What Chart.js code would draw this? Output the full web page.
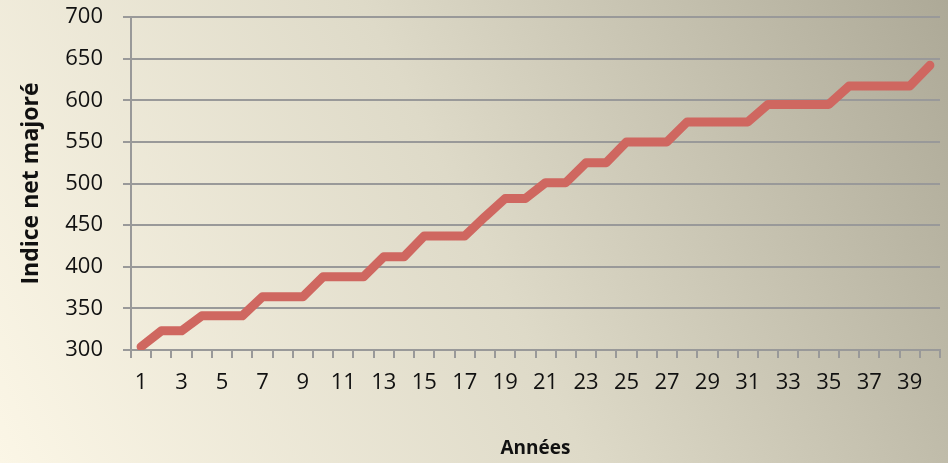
<!DOCTYPE html>
<html lang="fr">
<head>
<meta charset="UTF-8">
<title>Indice net majoré</title>
<script src="https://cdn.jsdelivr.net/npm/chart.js"></script>
<style>
  html, body { margin: 0; padding: 0; }
  #wrap { width: 948px; height: 463px; position: relative; }
</style>
</head>
<body>
<div id="wrap"><canvas id="chart"></canvas></div>
<script>
// années 1..40
const annees = [];
for (let i = 1; i <= 40; i++) annees.push(i);

// indice net majoré
const indice = [304, 323, 323, 341, 341, 341, 364, 364, 364, 388,
                388, 388, 412, 412, 437, 437, 437, 460, 482, 482,
                501, 501, 525, 525, 550, 550, 550, 574, 574, 574,
                574, 595, 595, 595, 595, 617, 617, 617, 617, 642];

const yMin = 300, yMax = 700, yStep = 50;

const bgPlugin = {
  id: 'bg',
  beforeDraw(chart) {
    const c = chart.ctx;
    const g = c.createLinearGradient(0, chart.height, chart.width, 0);
    g.addColorStop(0, '#FBF6E6');
    g.addColorStop(0.5, '#DEDAC8');
    g.addColorStop(1, '#ADA997');
    c.save();
    c.fillStyle = g;
    c.fillRect(0, 0, chart.width, chart.height);
    c.restore();
  }
};

const narrow = "'Liberation Sans Narrow', 'Open Sans'";

new Chart(document.getElementById('chart'), {
  type: 'line',
  data: {
    labels: annees,
    datasets: [{
      data: indice,
      borderColor: '#CF6760',
      borderWidth: 9,
      borderCapStyle: 'round',
      borderJoinStyle: 'round',
      pointRadius: 0,
      tension: 0,
      fill: false
    }]
  },
  options: {
    responsive: true,
    maintainAspectRatio: false,
    animation: false,
    layout: { padding: { top: 17, right: 8, left: 0, bottom: 0 } },
    plugins: { legend: { display: false }, tooltip: { enabled: false } },
    scales: {
      x: {
        offset: true,
        grid: {
          offset: true,
          drawOnChartArea: false,
          color: '#999999',
          lineWidth: 2,
          tickLength: 8
        },
        border: { color: '#999999', width: 2 },
        ticks: {
          autoSkip: false,
          maxRotation: 0,
          color: '#111111',
          font: { family: narrow, size: 22 },
          padding: 12,
          callback: function (v, i) { return i % 2 === 0 ? this.getLabelForValue(v) : ''; }
        },
        title: {
          display: true,
          text: 'Années',
          color: '#111111',
          font: { family: narrow, size: 19, weight: 'bold' },
          padding: { top: 20, bottom: 3 }
        },
        afterFit(s) { s.height = 113; s.paddingLeft = 0; s.paddingRight = 0; }
      },
      y: {
        min: yMin,
        max: yMax,
        grid: { color: '#999999', lineWidth: 2, tickLength: 8 },
        border: { color: '#999999', width: 2 },
        ticks: {
          stepSize: yStep,
          color: '#111111',
          font: { family: 'Open Sans', size: 22 },
          padding: 20
        },
        title: {
          display: true,
          text: 'Indice net majoré',
          color: '#111111',
          font: { family: 'Open Sans', size: 23, weight: 'bold' },
          padding: { top: 18, bottom: 10 }
        },
        afterFit(s) { s.width = 131; s.paddingTop = 0; s.paddingBottom = 0; }
      }
    }
  },
  plugins: [bgPlugin]
});
</script>
</body>
</html>
